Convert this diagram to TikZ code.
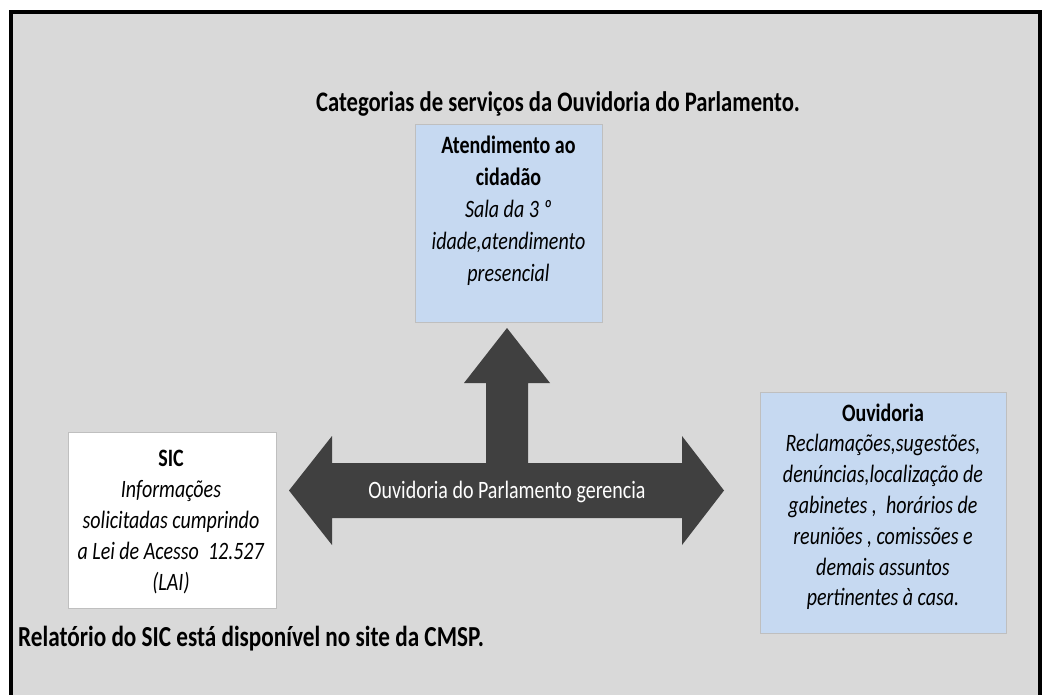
\documentclass[tikz,border=0pt]{standalone}
\usepackage{fontspec}
\setmainfont{Carlito}[FakeStretch=0.8]
\definecolor{bggray}{HTML}{D9D9D9}
\definecolor{boxblue}{HTML}{C6D9F1}
\definecolor{boxline}{HTML}{BFBFBF}
\definecolor{arrowgray}{HTML}{404040}
\tikzset{
  panel/.style={draw=boxline, line width=1pt, rectangle, inner sep=0pt, anchor=north west},
  bluepanel/.style={panel, fill=boxblue},
  whitepanel/.style={panel, fill=white},
  paneltext/.style={anchor=north, align=center, inner sep=0pt, text=black},
  plaintext/.style={inner sep=0pt, text=black, font=\fontsize{28.3}{34}\selectfont\bfseries},
}
\begin{document}
\begin{tikzpicture}[x=1pt,y=-1pt]
\useasboundingbox (0,0) rectangle (1044,695);
\fill[white] (0,0) rectangle (1044,695);
\fill[bggray] (11,12) rectangle (1040,695);
\begin{scope}
\clip (0,0) rectangle (1044,695);
\draw[line width=4pt, black] (11,700) -- (11,12) -- (1040,12) -- (1040,700);
\end{scope}

% title
\node[plaintext, anchor=base] (title) at (558,112) {Categorias de serviços da Ouvidoria do Parlamento.};

% top box
\node[bluepanel, minimum width=187pt, minimum height=198pt] (atend) at (415,124) {};
\node[paneltext, font=\fontsize{25}{32}\selectfont] (atendtxt) at (508.5,130.6)
  {\strut\textbf{Atendimento ao}\\ \textbf{cidadão}\\ \textit{Sala da 3 º}\\ \textit{idade,atendimento}\\ \textit{presencial}};

% SIC box
\node[whitepanel, minimum width=208pt, minimum height=176pt] (sic) at (68,432) {};
\node[paneltext, font=\fontsize{25}{31}\selectfont] (sictxt) at (171,444.3)
  {\strut\textbf{SIC}\\ \textit{Informações}\\ \textit{solicitadas cumprindo}\\ \textit{a Lei de Acesso\ \ 12.527}\\ \textit{(LAI)}};

% Ouvidoria box
\node[bluepanel, minimum width=246pt, minimum height=241pt] (ouv) at (760,392) {};
\node[paneltext, font=\fontsize{25}{30.8}\selectfont] (ouvtxt) at (883,399.3)
  {\strut\textbf{Ouvidoria}\\ \textit{Reclamações,sugestões,}\\ \textit{denúncias,localização de}\\ \textit{gabinetes ,\ \ horários de}\\ \textit{reuniões , comissões e}\\ \textit{demais assuntos}\\ \textit{pertinentes à casa.}};

% three-way arrow
\fill[arrowgray] (289,490.5) -- (332,436) -- (332,463) -- (486,463) -- (486,383) -- (464,383)
  -- (507,328) -- (550,383) -- (528,383) -- (528,463) -- (682,463) -- (682,436)
  -- (724,490.5) -- (682,545) -- (682,518) -- (332,518) -- (332,545) -- cycle;
\node[inner sep=0pt, anchor=base, text=white, font=\fontsize{25}{31}\selectfont] (arrowtxt) at (507,498)
  {Ouvidoria do Parlamento gerencia};

% footer
\node[plaintext, anchor=base west, font=\fontsize{29}{34}\selectfont\bfseries] (footer) at (18,646) {Relatório do SIC está disponível no site da CMSP.};
\end{tikzpicture}
\end{document}
